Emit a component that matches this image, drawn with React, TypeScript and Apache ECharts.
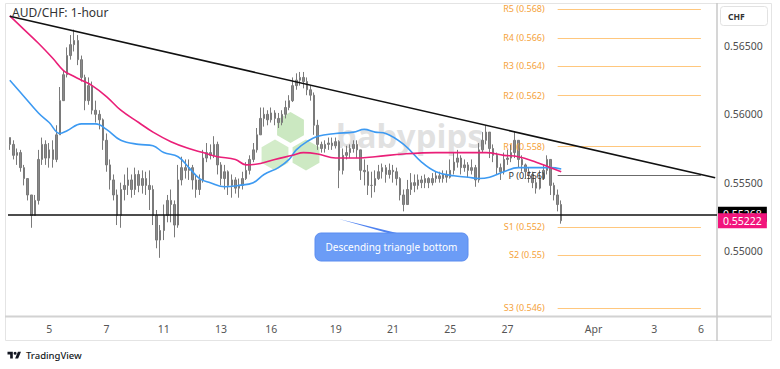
import React, { useEffect, useRef } from 'react';
import * as echarts from 'echarts';

// ---------- data ----------
const slotCount = 198; // 3-hour trading slots shown on the time axis
const tickSlots = [11, 27, 43, 59, 73, 91, 107, 123, 139, 163, 180, 193];
const tickLabels = ['5', '7', '11', '13', '16', '19', '21', '25', '27', 'Apr', '3', '6'];

const opens = [
  0.5583, 0.5578, 0.5570, 0.5572, 0.5561, 0.5553, 0.5541, 0.5526, 0.5537, 0.5567,
  0.5578, 0.5568, 0.5574, 0.5567, 0.5585, 0.5610, 0.5629, 0.5643, 0.5651, 0.5654,
  0.5640, 0.5627, 0.5610, 0.5621, 0.5603, 0.5600, 0.5596, 0.5581, 0.5563, 0.5552,
  0.5541, 0.5526, 0.5545, 0.5548, 0.5552, 0.5545, 0.5556, 0.5548, 0.5553, 0.5548,
  0.5545, 0.5526, 0.5508, 0.5515, 0.5526, 0.5537, 0.5534, 0.5519, 0.5552, 0.5561,
  0.5559, 0.5561, 0.5552, 0.5545, 0.5552, 0.5568, 0.5572, 0.5570, 0.5578, 0.5563,
  0.5553, 0.5558, 0.5548, 0.5552, 0.5546, 0.5548, 0.5553, 0.5559, 0.5567, 0.5574,
  0.5585, 0.5597, 0.5600, 0.5596, 0.5601, 0.5597, 0.5594, 0.5600, 0.5605, 0.5610,
  0.5621, 0.5625, 0.5627, 0.5624, 0.5618, 0.5614, 0.5592, 0.5578, 0.5575, 0.5578,
  0.5579, 0.5577, 0.5580, 0.5559, 0.5570, 0.5572, 0.5575, 0.5578, 0.5574, 0.5559,
  0.5558, 0.5548, 0.5548, 0.5553, 0.5558, 0.5561, 0.5556, 0.5559, 0.5558, 0.5553,
  0.5541, 0.5534, 0.5545, 0.5550, 0.5548, 0.5552, 0.5550, 0.5553, 0.5550, 0.5553,
  0.5555, 0.5553, 0.5556, 0.5554, 0.5559, 0.5565, 0.5568, 0.5561, 0.5563, 0.5559,
  0.5561, 0.5552, 0.5574, 0.5581, 0.5587, 0.5575, 0.5570, 0.5561, 0.5558, 0.5567,
  0.5568, 0.5572, 0.5581, 0.5567, 0.5563, 0.5558, 0.5556, 0.5550, 0.5546, 0.5553,
  0.5559, 0.5567, 0.5548, 0.5541, 0.5534,
];
const closes = [
  0.5578, 0.5570, 0.5572, 0.5561, 0.5553, 0.5541, 0.5526, 0.5537, 0.5567, 0.5578,
  0.5568, 0.5574, 0.5567, 0.5585, 0.5610, 0.5629, 0.5643, 0.5651, 0.5654, 0.5640,
  0.5627, 0.5610, 0.5621, 0.5603, 0.5600, 0.5596, 0.5581, 0.5563, 0.5552, 0.5541,
  0.5526, 0.5545, 0.5548, 0.5552, 0.5545, 0.5556, 0.5548, 0.5553, 0.5548, 0.5545,
  0.5526, 0.5508, 0.5515, 0.5526, 0.5537, 0.5534, 0.5519, 0.5552, 0.5561, 0.5559,
  0.5561, 0.5552, 0.5545, 0.5552, 0.5568, 0.5572, 0.5570, 0.5578, 0.5563, 0.5553,
  0.5558, 0.5548, 0.5552, 0.5546, 0.5548, 0.5553, 0.5559, 0.5567, 0.5574, 0.5585,
  0.5597, 0.5600, 0.5596, 0.5601, 0.5597, 0.5594, 0.5600, 0.5605, 0.5610, 0.5621,
  0.5625, 0.5627, 0.5624, 0.5618, 0.5614, 0.5592, 0.5578, 0.5575, 0.5578, 0.5579,
  0.5577, 0.5580, 0.5559, 0.5570, 0.5572, 0.5575, 0.5578, 0.5574, 0.5559, 0.5558,
  0.5548, 0.5548, 0.5553, 0.5558, 0.5561, 0.5556, 0.5559, 0.5558, 0.5553, 0.5541,
  0.5534, 0.5545, 0.5550, 0.5548, 0.5552, 0.5550, 0.5553, 0.5550, 0.5553, 0.5555,
  0.5553, 0.5556, 0.5554, 0.5559, 0.5565, 0.5568, 0.5561, 0.5563, 0.5559, 0.5561,
  0.5552, 0.5574, 0.5581, 0.5587, 0.5575, 0.5570, 0.5561, 0.5558, 0.5567, 0.5568,
  0.5572, 0.5581, 0.5567, 0.5563, 0.5558, 0.5556, 0.5550, 0.5546, 0.5553, 0.5559,
  0.5567, 0.5548, 0.5541, 0.5534, 0.55222,
];
const highs = [
  0.5583, 0.5581, 0.5575, 0.5574, 0.5563, 0.5553, 0.5541, 0.5541, 0.5574, 0.5583,
  0.5581, 0.5579, 0.5581, 0.5592, 0.5620, 0.5632, 0.5649, 0.5658, 0.5662, 0.5658,
  0.5643, 0.5629, 0.5627, 0.5624, 0.5610, 0.5603, 0.5597, 0.5586, 0.5567, 0.5556,
  0.5545, 0.5550, 0.5556, 0.5561, 0.5556, 0.5561, 0.5559, 0.5559, 0.5558, 0.5559,
  0.5548, 0.5530, 0.5519, 0.5534, 0.5541, 0.5545, 0.5537, 0.5563, 0.5569, 0.5567,
  0.5567, 0.5563, 0.5556, 0.5556, 0.5574, 0.5579, 0.5578, 0.5584, 0.5580, 0.5565,
  0.5563, 0.5559, 0.5556, 0.5554, 0.5553, 0.5558, 0.5565, 0.5570, 0.5579, 0.5590,
  0.5605, 0.5605, 0.5603, 0.5605, 0.5603, 0.5601, 0.5603, 0.5610, 0.5614, 0.5627,
  0.5630, 0.5631, 0.5631, 0.5627, 0.5621, 0.5616, 0.5596, 0.5580, 0.5581, 0.5583,
  0.5583, 0.5583, 0.5581, 0.5575, 0.5577, 0.5578, 0.5581, 0.5581, 0.5574, 0.5567,
  0.5563, 0.5558, 0.5559, 0.5563, 0.5564, 0.5563, 0.5564, 0.5563, 0.5561, 0.5554,
  0.5545, 0.5552, 0.5557, 0.5556, 0.5556, 0.5555, 0.5556, 0.5554, 0.5557, 0.5558,
  0.5558, 0.5559, 0.5559, 0.5567, 0.5572, 0.5574, 0.5570, 0.5567, 0.5565, 0.5567,
  0.5563, 0.5579, 0.5587, 0.5592, 0.5587, 0.5578, 0.5572, 0.5564, 0.5572, 0.5574,
  0.5578, 0.5587, 0.5581, 0.5570, 0.5564, 0.5561, 0.5558, 0.5553, 0.5559, 0.5563,
  0.5570, 0.5567, 0.5550, 0.5545, 0.5537,
];
const lows = [
  0.5574, 0.5567, 0.5563, 0.5558, 0.5548, 0.5537, 0.5517, 0.5526, 0.5534, 0.5563,
  0.5563, 0.5561, 0.5561, 0.5565, 0.5585, 0.5610, 0.5627, 0.5640, 0.5646, 0.5636,
  0.5624, 0.5603, 0.5607, 0.5600, 0.5594, 0.5589, 0.5574, 0.5558, 0.5545, 0.5537,
  0.5519, 0.5517, 0.5537, 0.5541, 0.5539, 0.5541, 0.5543, 0.5542, 0.5541, 0.5530,
  0.5519, 0.5502, 0.5495, 0.5508, 0.5521, 0.5521, 0.5510, 0.5517, 0.5548, 0.5553,
  0.5552, 0.5545, 0.5539, 0.5541, 0.5550, 0.5565, 0.5567, 0.5568, 0.5556, 0.5548,
  0.5545, 0.5541, 0.5539, 0.5542, 0.5539, 0.5545, 0.5552, 0.5556, 0.5565, 0.5572,
  0.5585, 0.5591, 0.5592, 0.5594, 0.5592, 0.5590, 0.5592, 0.5597, 0.5603, 0.5609,
  0.5618, 0.5621, 0.5619, 0.5614, 0.5610, 0.5585, 0.5574, 0.5572, 0.5572, 0.5574,
  0.5574, 0.5575, 0.5546, 0.5556, 0.5567, 0.5568, 0.5572, 0.5568, 0.5552, 0.5548,
  0.5541, 0.5539, 0.5543, 0.5552, 0.5553, 0.5550, 0.5553, 0.5550, 0.5548, 0.5537,
  0.5529, 0.5534, 0.5541, 0.5543, 0.5545, 0.5546, 0.5546, 0.5546, 0.5548, 0.5550,
  0.5550, 0.5550, 0.5550, 0.5553, 0.5556, 0.5561, 0.5556, 0.5558, 0.5554, 0.5556,
  0.5547, 0.5550, 0.5572, 0.5578, 0.5568, 0.5565, 0.5556, 0.5552, 0.5556, 0.5563,
  0.5565, 0.5568, 0.5561, 0.5558, 0.5553, 0.5550, 0.5546, 0.5542, 0.5545, 0.5552,
  0.5556, 0.5541, 0.5537, 0.5529, 0.5520,
];

// moving averages as [slot, price]
const maBlue = [
  [0, 0.5625], [3, 0.5616], [8, 0.5601], [11, 0.5594], [14, 0.5586], [16, 0.5588],
  [20, 0.5593], [24, 0.5593], [27, 0.5589], [31, 0.5581], [36, 0.5578], [40, 0.5577],
  [43, 0.5572], [47, 0.5569], [50, 0.5561], [53, 0.5553], [56, 0.5550], [60, 0.5547],
  [64, 0.5548], [68, 0.5550], [71, 0.5556], [75, 0.5561], [78, 0.5567], [80, 0.5574],
  [83, 0.5580], [86, 0.5584], [91, 0.5586], [96, 0.5587], [99, 0.5589], [102, 0.5587],
  [105, 0.5586], [110, 0.5578], [115, 0.5565], [119, 0.5558], [124, 0.5555], [128, 0.5554],
  [131, 0.5553], [134, 0.5554], [138, 0.5558], [142, 0.5561], [147, 0.5561], [151, 0.5561],
  [154, 0.5560],
];
const maPink = [
  [0, 0.5672], [4, 0.5662], [8, 0.5652], [12, 0.5641], [15, 0.5632], [17, 0.5629],
  [20, 0.5625], [23, 0.5621], [27, 0.5613], [31, 0.5603], [36, 0.5594], [40, 0.5587],
  [45, 0.5580], [50, 0.5575], [54, 0.5572], [58, 0.5569], [63, 0.5567], [66, 0.5563],
  [70, 0.5564], [74, 0.5567], [79, 0.5570], [82, 0.5572], [86, 0.5571], [91, 0.5568],
  [96, 0.5568], [102, 0.5569], [110, 0.5571], [119, 0.5572], [128, 0.5572], [133, 0.5572],
  [138, 0.5570], [142, 0.5569], [147, 0.5565], [151, 0.5561], [154, 0.5558],
];

const trendline = [[0, 0.56717], [197, 0.55536]];
const supportLevel = 0.55268;
const lastPrice = 0.55222;

const pivotNames = ['R5', 'R4', 'R3', 'R2', 'R1', 'P', 'S1', 'S2', 'S3'];
const pivotTexts = ['0.568', '0.566', '0.564', '0.562', '0.558', '0.556', '0.552', '0.55', '0.546'];
const pivotLevels = [0.56771, 0.56559, 0.56354, 0.56141, 0.55768, 0.55556, 0.55176, 0.54971, 0.54583];
const pivotStart = 153;
const pivotEnd = 193;

const yMin = 0.5452;
const yMax = 0.568;
const yStep = 0.0002;
const yLabelStep = 0.005;

// ---------- drawing ----------
const FONT = '"Noto Sans", "DejaVu Sans", sans-serif';
const TV_PATH = 'M14 22H7V11H0V4h14v18zM28 22h-8l7.5-18h8L28 22zM20 4a4 4 0 1 1 0 8a4 4 0 0 1 0-8z';
echarts.graphic.registerShape('tvlogo', echarts.graphic.extendPath(TV_PATH, {}) as any);

function hexagon(cx: number, cy: number, r: number) {
  const pts: number[][] = [];
  for (let k = 0; k < 6; k++) {
    const a = (Math.PI / 180) * (-90 + 60 * k);
    pts.push([cx + r * Math.cos(a), cy + r * Math.sin(a)]);
  }
  return pts;
}

export default function App() {
  const ref = useRef<HTMLDivElement>(null);

  useEffect(() => {
    const el = ref.current;
    if (!el) return;
    const chart = echarts.init(el, null, { renderer: 'svg' });

    const categories = Array.from({ length: slotCount }, (_, i) => String(i));
    const labelOf: Record<number, string> = {};
    tickSlots.forEach((s, k) => { labelOf[s] = tickLabels[k]; });
    const candles = closes.map((c, i) => [opens[i], c, lows[i], highs[i]]);

    const pivotLines = pivotNames.map((n, k) => {
      const isP = n === 'P';
      return [
        {
          coord: [pivotStart, pivotLevels[k]],
          lineStyle: { color: isP ? '#6b6b6b' : '#ffc77d', width: 1, type: 'solid' },
          label: {
            show: true,
            position: 'start',
            distance: 13,
            formatter: `${n} (${pivotTexts[k]})`,
            color: isP ? '#333333' : '#f5a23a',
            fontSize: 9,
            fontFamily: FONT,
          },
        },
        { coord: [pivotEnd, pivotLevels[k]] },
      ];
    });

    const priceTag = (bg: string, text: string) => ({
      show: true,
      position: 'end',
      distance: 1,
      formatter: text,
      backgroundColor: bg,
      color: '#ffffff',
      opacity: 1,
      fontSize: 10.5,
      fontFamily: FONT,
      padding: [2, 5, 2, 5],
    });

    const option: any = {
      animation: false,
      backgroundColor: '#ffffff',
      textStyle: { fontFamily: FONT },
      grid: { left: 8, right: 63, top: 5, bottom: 52.4, containLabel: false },
      xAxis: {
        type: 'category',
        data: categories,
        boundaryGap: true,
        axisLine: { show: false },
        axisTick: { show: false },
        splitLine: { show: false },
        axisLabel: {
          interval: (i: number) => labelOf[i] !== undefined,
          formatter: (_v: string, i: number) => labelOf[i] ?? '',
          color: '#555555',
          fontSize: 10.5,
          fontFamily: FONT,
          margin: 7,
        },
      },
      yAxis: {
        type: 'value',
        position: 'right',
        min: yMin,
        max: yMax,
        interval: yStep,
        axisLine: { show: false },
        axisTick: { show: false },
        splitLine: { show: false },
        axisLabel: {
          margin: 7,
          color: '#4d4d4d',
          fontSize: 10.5,
          fontFamily: FONT,
          formatter: (v: number) => {
            const k = Math.round(v / yLabelStep);
            return Math.abs(v - k * yLabelStep) < 1e-7 ? v.toFixed(5) : '';
          },
        },
      },
      series: [
        {
          type: 'candlestick',
          data: candles,
          barWidth: 2,
          z: 2,
          itemStyle: {
            color: '#8a8a8a',
            color0: '#8a8a8a',
            borderColor: '#7a7a7a',
            borderColor0: '#7a7a7a',
            borderWidth: 1,
          },
          markLine: {
            silent: true,
            symbol: ['none', 'none'],
            precision: 6,
            animation: false,
            data: pivotLines,
          },
        },
        {
          type: 'line',
          data: maBlue,
          smooth: 0.4,
          showSymbol: false,
          z: 3,
          lineStyle: { color: '#3d9af2', width: 1.6 },
        },
        {
          type: 'line',
          data: maPink,
          smooth: 0.4,
          showSymbol: false,
          z: 4,
          lineStyle: { color: '#ea1f78', width: 1.6 },
        },
        {
          type: 'line',
          data: trendline,
          showSymbol: false,
          z: 5,
          lineStyle: { color: '#111111', width: 1.6 },
          markLine: {
            silent: true,
            symbol: ['none', 'none'],
            precision: 6,
            animation: false,
            data: [
              {
                yAxis: supportLevel,
                lineStyle: { color: '#111111', width: 1.6, type: 'solid' },
                label: priceTag('#000000', supportLevel.toFixed(5)),
              },
              {
                yAxis: lastPrice,
                lineStyle: { color: 'rgba(0,0,0,0)', width: 0, opacity: 1, type: 'solid' },
                label: priceTag('#f2157c', lastPrice.toFixed(5)),
              },
            ],
          },
        },
      ],
      graphic: [
        // frame and separators
        { type: 'rect', silent: true, z: 0, shape: { x: 5.5, y: 3.5, width: 766, height: 337 }, style: { fill: 'none', stroke: '#e4e4e4', lineWidth: 1 } },
        { type: 'line', silent: true, z: 1, shape: { x1: 5, y1: 316.6, x2: 771, y2: 316.6 }, style: { stroke: '#d2d2d2', lineWidth: 2 } },
        { type: 'line', silent: true, z: 1, shape: { x1: 717, y1: 3, x2: 717, y2: 341 }, style: { stroke: '#c9c9c9', lineWidth: 1.5 } },
        // watermark
        { type: 'polygon', silent: true, z: 0, shape: { points: hexagon(290.5, 127.5, 15.5) }, style: { fill: '#cbe8c1' } },
        { type: 'polygon', silent: true, z: 0, shape: { points: hexagon(275, 155, 15.5) }, style: { fill: '#d3ecc9' } },
        { type: 'polygon', silent: true, z: 0, shape: { points: hexagon(306, 155, 15.5) }, style: { fill: '#cde9c3' } },
        { type: 'text', silent: true, z: 0, x: 336, y: 135, style: { text: 'babypips', font: `bold 33px ${FONT}`, fill: 'rgba(170,170,170,0.35)', align: 'left', verticalAlign: 'middle' } },
        // title
        { type: 'text', silent: true, z: 10, x: 12, y: 12, style: { text: 'AUD/CHF: 1-hour', font: `12px ${FONT}`, fill: '#333333', align: 'left', verticalAlign: 'middle' } },
        // currency box
        { type: 'rect', silent: true, z: 10, shape: { x: 720.5, y: 6.5, width: 47, height: 19, r: 3 }, style: { fill: '#ffffff', stroke: '#e2e2e2', lineWidth: 1 } },
        { type: 'text', silent: true, z: 11, x: 728, y: 16, style: { text: 'CHF', font: `bold 8.5px ${FONT}`, fill: '#333333', align: 'left', verticalAlign: 'middle' } },
        // callout
        { type: 'polygon', silent: true, z: 20, shape: { points: [[339, 219], [401, 234], [391, 234]] }, style: { fill: '#4f82f0' } },
        { type: 'rect', silent: true, z: 21, shape: { x: 315, y: 233, width: 153, height: 28, r: 6 }, style: { fill: '#6b9cf6', stroke: '#5b8cf0', lineWidth: 1 } },
        { type: 'text', silent: true, z: 22, x: 391.5, y: 247, style: { text: 'Descending triangle bottom', font: `10px ${FONT}`, fill: '#ffffff', align: 'center', verticalAlign: 'middle' } },
        // TradingView logo
        { type: 'tvlogo', silent: true, z: 10, x: 7.5, y: 350.2, scaleX: 0.38, scaleY: 0.38, style: { fill: '#131722' } },
        { type: 'text', silent: true, z: 10, x: 26, y: 355.5, style: { text: 'TradingView', font: `500 9.5px ${FONT}`, fill: '#131722', align: 'left', verticalAlign: 'middle' } },
      ],
    };

    chart.setOption(option);
    return () => chart.dispose();
  }, []);

  return (
    <div
      ref={ref}
      style={{ position: 'fixed', left: 0, top: 0, width: 780, height: 369, background: '#ffffff' }}
    />
  );
}
